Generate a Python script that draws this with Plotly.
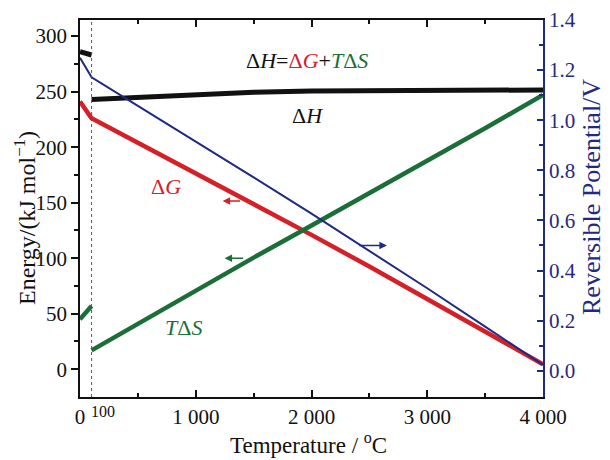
import plotly.graph_objects as go

# Temperatures (°C)
t_liq = [0, 100]
t_gas = [100, 500, 1000, 1500, 2000, 2500, 3000, 3500, 4000]
t_all = [0, 100, 500, 1000, 1500, 2000, 2500, 3000, 3500, 4000]

# ΔH (kJ/mol)
dh_liq = [286, 283]
dh_gas = [243, 245, 247.5, 249.5, 250.5, 251, 251.3, 251.4, 251.5]

# ΔG (kJ/mol)
dg_all = [241, 226, 204, 176.5, 149, 121, 92.5, 63.5, 34, 4.5]

# TΔS (kJ/mol)
tds_liq = [45, 57]
tds_gas = [17, 41, 71, 100.5, 129.5, 158.5, 187.8, 217, 247]

# Reversible potential (V)
v_all = [1.249, 1.171, 1.057, 0.915, 0.772, 0.627, 0.479, 0.329, 0.176, 0.023]

x_tickvals = [0, 1000, 2000, 3000, 4000]
x_ticktext = ["0", "1 000", "2 000", "3 000", "4 000"]
y_tickvals = [0, 50, 100, 150, 200, 250, 300]
y2_tickvals = [0.0, 0.2, 0.4, 0.6, 0.8, 1.0, 1.2, 1.4]
y2_ticktext = ["0.0", "0.2", "0.4", "0.6", "0.8", "1.0", "1.2", "1.4"]

BLACK = "#111111"
RED = "#d42028"
GREEN = "#1b6e37"
NAVY = "#1f2a80"
FONT = "Liberation Serif, Times New Roman, serif"

# plot-area geometry in reference pixels
PL, PR, PT, PB = 80, 543, 20, 397
PW, PH = PR - PL, PB - PT


def px(xp):
    return (xp - PL) / PW


def py(yp):
    return (PB - yp) / PH


fig = go.Figure()
fig.add_trace(go.Scatter(x=t_liq, y=dh_liq, mode="lines", line=dict(color=BLACK, width=5), showlegend=False))
fig.add_trace(go.Scatter(x=t_gas, y=dh_gas, mode="lines", line=dict(color=BLACK, width=5), showlegend=False))
fig.add_trace(go.Scatter(x=t_all, y=dg_all, mode="lines", line=dict(color=RED, width=4.5), showlegend=False))
fig.add_trace(go.Scatter(x=t_liq, y=tds_liq, mode="lines", line=dict(color=GREEN, width=4.5), showlegend=False))
fig.add_trace(go.Scatter(x=t_gas, y=tds_gas, mode="lines", line=dict(color=GREEN, width=4.5), showlegend=False))
fig.add_trace(go.Scatter(x=t_all, y=v_all, mode="lines", line=dict(color=NAVY, width=2), yaxis="y2", showlegend=False))

fig.add_shape(type="line", xref="x", yref="paper", x0=100, x1=100, y0=0, y1=1,
              line=dict(color="#555555", width=1, dash="dot"))

# page body has an 8px margin: shift the figure so the plot area lands at PL/PT
OFF = 8
W, H = 602, 452
fig.update_layout(
    width=W, height=H,
    margin=dict(l=PL - OFF, r=W - (PR - OFF), t=PT - OFF, b=H - (PB - OFF), autoexpand=False),
    paper_bgcolor="white", plot_bgcolor="white",
    font=dict(family=FONT, size=21, color=BLACK),
    xaxis=dict(range=[0, 4000], tickvals=x_tickvals, ticktext=x_ticktext,
               ticks="inside", ticklen=7, tickwidth=1.5, tickcolor=BLACK,
               showline=True, linecolor=BLACK, linewidth=1.5, mirror="ticks",
               showgrid=False, zeroline=False, automargin=False,
               minor=dict(tickvals=[500, 1500, 2500, 3500], ticks="inside", ticklen=4, tickcolor=BLACK, tickwidth=1.5),
               tickfont=dict(size=21, color=BLACK, family=FONT)),
    yaxis=dict(range=[-25, 314.5], tickvals=y_tickvals,
               ticks="outside", ticklen=7, tickwidth=1.5, tickcolor=BLACK,
               showline=True, linecolor=BLACK, linewidth=1.5,
               showgrid=False, zeroline=False, automargin=False,
               minor=dict(tickvals=[25, 75, 125, 175, 225, 275], ticks="outside", ticklen=4, tickcolor=BLACK, tickwidth=1.5),
               tickfont=dict(size=21, color=BLACK, family=FONT)),
    yaxis2=dict(range=[-0.105, 1.4], overlaying="y", side="right",
                tickvals=y2_tickvals, ticktext=y2_ticktext,
                ticks="inside", ticklen=6, tickwidth=1.5, tickcolor=NAVY,
                showline=True, linecolor=NAVY, linewidth=1.5,
                showgrid=False, zeroline=False, automargin=False,
                minor=dict(tickvals=[0.1, 0.3, 0.5, 0.7, 0.9, 1.1, 1.3], ticks="inside", ticklen=4, tickcolor=NAVY, tickwidth=1.5),
                tickfont=dict(size=21, color=NAVY, family=FONT)),
)


def label(xp, yp, text, size, color, angle=0):
    return dict(x=px(xp), y=py(yp), xref="paper", yref="paper", text=text,
                xanchor="center", yanchor="middle", textangle=angle,
                showarrow=False, font=dict(size=size, color=color, family=FONT))


ann = [
    # axis titles
    label(308, 443, "Temperature / <sup>o</sup>C", 23, BLACK),
    label(25, 218, "Energy/(kJ mol<sup>−1</sup>)", 24, BLACK, -90),
    label(592, 197, "Reversible Potential/V", 26, NAVY, -90),
    # "100" label
    label(103, 411, "100", 16, BLACK),
    # curve labels
    label(307, 60, "Δ<i>H</i>=<span style='color:" + RED + "'>Δ<i>G</i></span>+<span style='color:" + GREEN + "'><i>T</i>Δ<i>S</i></span>", 22, BLACK),
    label(307, 115, "Δ<i>H</i>", 22, BLACK),
    label(166, 186, "Δ<i>G</i>", 22, RED),
    label(183, 327, "<i>T</i>Δ<i>S</i>", 22, GREEN),
    # arrows
    dict(x=1232, y=151.5, ax=1396, ay=151.5, xref="x", yref="y", axref="x", ayref="y",
         text="", showarrow=True, arrowhead=2, arrowsize=1, arrowwidth=1.5, arrowcolor=RED),
    dict(x=1249, y=100, ax=1422, ay=100, xref="x", yref="y", axref="x", ayref="y",
         text="", showarrow=True, arrowhead=2, arrowsize=1, arrowwidth=1.5, arrowcolor=GREEN),
    dict(x=2651, y=0.5, ax=2400, ay=0.5, xref="x", yref="y2", axref="x", ayref="y2",
         text="", showarrow=True, arrowhead=2, arrowsize=1, arrowwidth=1.5, arrowcolor=NAVY),
]
fig.update_layout(annotations=ann)

fig.write_html("out.html")
